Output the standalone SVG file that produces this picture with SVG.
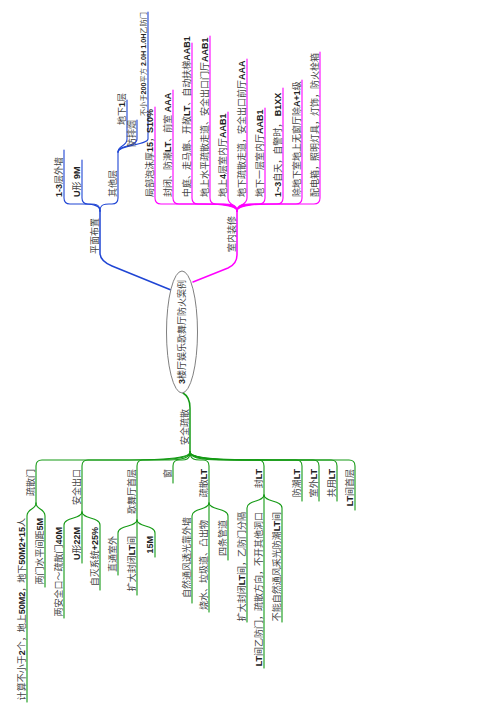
<svg xmlns="http://www.w3.org/2000/svg" width="504" height="713" viewBox="0 0 504 713">
<style>
text{font-family:"Liberation Sans","Noto Sans CJK SC",sans-serif;font-size:9px;fill:#444}
.b{font-weight:bold;fill:#222}
.e{text-anchor:end}
.m{text-anchor:middle}
.s{font-size:7.2px}
.c{fill:none;stroke-width:1.1;stroke-linecap:round}
.bl{stroke:#1f45d4}
.mg{stroke:#ff00ff}
.gr{stroke:#149a14}
.main{stroke-width:1.5}
</style>
<rect width="504" height="713" fill="#fff"/>
<g id="connectors">
<path class="c bl main" d="M171,290 L112,266 Q100,261 100,253 L100,211"/>
<path class="c mg main" d="M193,282 L228,268 Q237,264 237,255 L237,211"/>
<path class="c gr main" d="M183,393 Q190,397 190,408 L190,452"/>
<path class="c bl" d="M100,211 C100,204 89.2,204 82,204 L70,204 Q64,204 64,198 L64,150"/>
<path class="c bl" d="M100,211 C100,204 94.6,204 91,204 L88,204 Q82,204 82,198 L82,160"/>
<path class="c bl" d="M100,211 C100,204 105.4,204 109,204 L112,204 Q118,204 118,198 L118,152"/>
<path class="c bl" d="M118,152 C118,145 127,147 127,139 L127,100"/>
<path class="c bl" d="M118,152 C118,145 137,147 137,139 L137,120"/>
<path class="c bl" d="M118,152 C118,145 148,145 148,139 L148,12"/>
<path class="c mg" d="M237,211 C237,204 212.4,204 196,204 L161,204 Q155,204 155,198 L155,107"/>
<path class="c mg" d="M237,211 C237,204 217.8,204 205,204 L179,204 Q173,204 173,198 L173,90"/>
<path class="c mg" d="M237,211 C237,204 223.5,204 214.5,204 L198,204 Q192,204 192,198 L192,43"/>
<path class="c mg" d="M237,211 C237,204 228.9,204 223.5,204 L216,204 Q210,204 210,198 L210,36"/>
<path class="c mg" d="M237,211 C237,204 228,206 228,198 L228,112"/>
<path class="c mg" d="M237,211 C237,204 247,206 247,198 L247,59"/>
<path class="c mg" d="M237,211 C237,204 245.4,204 251,204 L259,204 Q265,204 265,198 L265,108"/>
<path class="c mg" d="M237,211 C237,204 250.8,204 260,204 L277,204 Q283,204 283,198 L283,88"/>
<path class="c mg" d="M237,211 C237,204 256.5,204 269.5,204 L296,204 Q302,204 302,198 L302,80"/>
<path class="c mg" d="M237,211 C237,204 261.9,204 278.5,204 L314,204 Q320,204 320,198 L320,52"/>
<path class="c gr" d="M190,452 C190,460 144,460 113,460 L42,460 Q36,460 36,466 L36,503"/>
<path class="c gr" d="M190,452 C190,460 158,460 136,460 L88,460 Q82,460 82,466 L82,512"/>
<path class="c gr" d="M190,452 C190,460 174,460 164,460 L143,460 Q137,460 137,466 L137,520"/>
<path class="c gr" d="M190,452 C190,460 185,460 182,460 L179,460 Q173,460 173,466 L173,483"/>
<path class="c gr" d="M190,452 C190,460 196,460 200,460 L203,460 Q209,460 209,466 L209,503"/>
<path class="c gr" d="M190,452 C190,460 212,460 227,460 L258,460 Q264,460 264,466 L264,495"/>
<path class="c gr" d="M190,452 C190,460 224,460 246,460 L296,460 Q302,460 302,466 L302,501"/>
<path class="c gr" d="M190,452 C190,460 229,460 255,460 L313,460 Q319,460 319,466 L319,501"/>
<path class="c gr" d="M190,452 C190,460 235,460 264,460 L331,460 Q337,460 337,466 L337,501"/>
<path class="c gr" d="M190,452 C190,460 240,460 273,460 L349,460 Q355,460 355,466 L355,510"/>
<path class="c gr" d="M36,503 C36,510 27,508 27,516 L27,702"/>
<path class="c gr" d="M36,503 C36,510 45,508 45,516 L45,587"/>
<path class="c gr" d="M82,512 C82,519 64,517 64,525 L64,618"/>
<path class="c gr" d="M82,512 L82,563"/>
<path class="c gr" d="M82,512 C82,519 100,517 100,525 L100,590"/>
<path class="c gr" d="M137,520 C137,527 118,525 118,533 L118,575"/>
<path class="c gr" d="M137,520 L137,595"/>
<path class="c gr" d="M137,520 C137,527 155,525 155,533 L155,557"/>
<path class="c gr" d="M209,503 C209,510 192,508 192,516 L192,603"/>
<path class="c gr" d="M209,503 L209,612"/>
<path class="c gr" d="M209,503 C209,510 228,508 228,516 L228,560"/>
<path class="c gr" d="M264,495 C264,502 247,500 247,508 L247,622"/>
<path class="c gr" d="M264,495 L264,668"/>
<path class="c gr" d="M264,495 C264,502 282,500 282,508 L282,622"/>
</g>
<g id="root">
<ellipse cx="182" cy="332" rx="15.5" ry="61" fill="#fff" stroke="#808080" stroke-width="1"/>
<text class="m" x="185" y="332" transform="rotate(-90 185 332)"><tspan class="b">3</tspan>楼厅娱乐歌舞厅防火案例</text>
</g>
<g id="n-pmbz"><text class="m" x="98" y="236" transform="rotate(-90 98 236)">平面布置</text></g>
<g id="n-pm1"><text x="62" y="197" transform="rotate(-90 62 197)"><tspan class="b">1-3</tspan>层外墙</text></g>
<g id="n-pm2"><text x="80" y="197" transform="rotate(-90 80 197)"><tspan class="b">U</tspan>形 <tspan class="b">9M</tspan></text></g>
<g id="n-pm3"><text x="116" y="197" transform="rotate(-90 116 197)">其他层</text></g>
<g id="n-pm31"><text x="125" y="125" transform="rotate(-90 125 125)">地下<tspan class="b">1</tspan>层</text></g>
<g id="n-pm32"><text x="135" y="147" transform="rotate(-90 135 147)">防排烟</text></g>
<g id="n-pm33"><text class="s" x="146" y="116" transform="rotate(-90 146 116)">不小于<tspan class="b">200</tspan>平方<tspan class="b"> 2.0H 1.0H</tspan>乙防门</text></g>
<g id="n-snzx"><text class="m" x="235" y="234" transform="rotate(-90 235 234)">室内装修</text></g>
<g id="n-sn1"><text x="153" y="197" transform="rotate(-90 153 197)">局部泡沫厚<tspan class="b">15</tspan>，<tspan class="b">S10%</tspan></text></g>
<g id="n-sn2"><text x="171" y="197" transform="rotate(-90 171 197)">封闭、防潮<tspan class="b">LT</tspan>、前室 <tspan class="b">AAA</tspan></text></g>
<g id="n-sn3"><text x="190" y="197" transform="rotate(-90 190 197)">中庭、走马廊、开敞<tspan class="b">LT</tspan>、自动扶梯<tspan class="b">AAB1</tspan></text></g>
<g id="n-sn4"><text x="208" y="197" transform="rotate(-90 208 197)">地上水平疏散走道、安全出口门厅<tspan class="b">AAB1</tspan></text></g>
<g id="n-sn5"><text x="226" y="197" transform="rotate(-90 226 197)">地上<tspan class="b">4</tspan>层室内厅<tspan class="b">AAB1</tspan></text></g>
<g id="n-sn6"><text x="245" y="197" transform="rotate(-90 245 197)">地下疏散走道，安全出口前厅<tspan class="b">AAA</tspan></text></g>
<g id="n-sn7"><text x="263" y="197" transform="rotate(-90 263 197)">地下一层室内厅<tspan class="b">AAB1</tspan></text></g>
<g id="n-sn8"><text x="281" y="197" transform="rotate(-90 281 197)"><tspan class="b">1~3</tspan>自天，自警时， <tspan class="b">B1XX</tspan></text></g>
<g id="n-sn9"><text x="300" y="197" transform="rotate(-90 300 197)">除地下室地上无窗厅除<tspan class="b">A+1</tspan>级</text></g>
<g id="n-sn10"><text x="318" y="197" transform="rotate(-90 318 197)">配电箱，照明灯具，灯饰，防火栓箱</text></g>
<g id="n-aqss"><text class="m" x="188" y="427" transform="rotate(-90 188 427)">安全疏散</text></g>
<g id="n-ssm"><text class="e" x="34" y="469" transform="rotate(-90 34 469)">疏散门</text></g>
<g id="n-ssm1"><text class="e" x="25" y="518" transform="rotate(-90 25 518)">计算不小于<tspan class="b">2</tspan>个，地上<tspan class="b">50M2</tspan>，地下<tspan class="b">50M2+15</tspan>人</text></g>
<g id="n-ssm2"><text class="e" x="43" y="518" transform="rotate(-90 43 518)">两门水平间距<tspan class="b">5M</tspan></text></g>
<g id="n-aqck"><text class="e" x="80" y="469" transform="rotate(-90 80 469)">安全出口</text></g>
<g id="n-aqck1"><text class="e" x="62" y="527" transform="rotate(-90 62 527)">两安全口～疏散门<tspan class="b">40M</tspan></text></g>
<g id="n-aqck2"><text class="e" x="80" y="527" transform="rotate(-90 80 527)"><tspan class="b">U</tspan>形<tspan class="b">22M</tspan></text></g>
<g id="n-aqck3"><text class="e" x="98" y="527" transform="rotate(-90 98 527)">自灭系统<tspan class="b">+25%</tspan></text></g>
<g id="n-gwt"><text class="e" x="135" y="469" transform="rotate(-90 135 469)">歌舞厅首层</text></g>
<g id="n-gwt1"><text class="e" x="116" y="536" transform="rotate(-90 116 536)">直通室外</text></g>
<g id="n-gwt2"><text class="e" x="135" y="536" transform="rotate(-90 135 536)">扩大封闭<tspan class="b">LT</tspan>间</text></g>
<g id="n-gwt3"><text class="e" x="153" y="536" transform="rotate(-90 153 536)"><tspan class="b">15M</tspan></text></g>
<g id="n-win"><text class="e" x="171" y="469" transform="rotate(-90 171 469)">窗</text></g>
<g id="n-sslt"><text class="e" x="207" y="469" transform="rotate(-90 207 469)">疏散<tspan class="b">LT</tspan></text></g>
<g id="n-sslt1"><text class="e" x="190" y="517" transform="rotate(-90 190 517)">自然通风透光靠外墙</text></g>
<g id="n-sslt2"><text class="e" x="207" y="520" transform="rotate(-90 207 520)">烧水、垃圾道、凸出物</text></g>
<g id="n-sslt3"><text class="e" x="226" y="520" transform="rotate(-90 226 520)">四条管道</text></g>
<g id="n-flt"><text class="e" x="262" y="469" transform="rotate(-90 262 469)">封<tspan class="b">LT</tspan></text></g>
<g id="n-flt1"><text class="e" x="245" y="512" transform="rotate(-90 245 512)">扩大封闭<tspan class="b">LT</tspan>间，乙防门分隔</text></g>
<g id="n-flt2"><text class="e" x="262" y="512" transform="rotate(-90 262 512)"><tspan class="b">LT</tspan>间乙防门，疏散方向，不开其他洞口</text></g>
<g id="n-flt3"><text class="e" x="280" y="512" transform="rotate(-90 280 512)">不能自然通风采光防潮<tspan class="b">LT</tspan>间</text></g>
<g id="n-fclt"><text class="e" x="300" y="469" transform="rotate(-90 300 469)">防潮<tspan class="b">LT</tspan></text></g>
<g id="n-swlt"><text class="e" x="317" y="469" transform="rotate(-90 317 469)">室外<tspan class="b">LT</tspan></text></g>
<g id="n-gylt"><text class="e" x="335" y="469" transform="rotate(-90 335 469)">共用<tspan class="b">LT</tspan></text></g>
<g id="n-ltsc"><text class="e" x="353" y="469" transform="rotate(-90 353 469)"><tspan class="b">LT</tspan>间首层</text></g>
</svg>
